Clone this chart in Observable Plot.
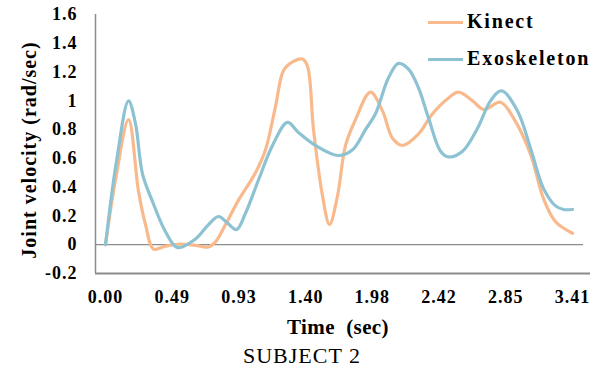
<!DOCTYPE html>
<html><head><meta charset="utf-8">
<script src="https://cdn.jsdelivr.net/npm/d3@7"></script>
<script src="https://cdn.jsdelivr.net/npm/@observablehq/plot@0.6"></script>
<style>
body{margin:0;background:#fff;}
#wrap{position:relative;width:590px;height:370px;font-family:"Liberation Serif","Times New Roman",serif;color:#000;overflow:hidden;}
#wrap svg{position:absolute;left:0;top:0;}
.lg-line{position:absolute;left:428px;width:35px;height:3px;}
.lg-text{position:absolute;left:467px;font-size:20px;line-height:20px;font-weight:bold;letter-spacing:1.8px;white-space:nowrap;}
.xlabel{position:absolute;top:317px;left:238px;width:200px;text-align:center;font-size:21px;line-height:21px;font-weight:bold;letter-spacing:0.4px;white-space:pre;}
.caption{position:absolute;top:345px;left:202px;width:200px;text-align:center;font-size:22px;line-height:22px;letter-spacing:1px;white-space:nowrap;}
</style></head>
<body><div id="wrap"></div>
<script>
// x positions are in category-tick units (0 = "0.00", 7 = "3.41")
const timeLabels = ["0.00","0.49","0.93","1.40","1.98","2.42","2.85","3.41"];
const timeTicks = [0,1,2,3,4,5,6,7];
const yTicks = [-0.2,0,0.2,0.4,0.6,0.8,1,1.2,1.4,1.6];
const yTickLabels = ["-0.2","0","0.2","0.4","0.6","0.8","1","1.2","1.4","1.6"];
const seriesNames = ["Kinect","Exoskeleton"];
const seriesColors = ["#f8ba8c","#8cc2d2"];

const kinectT = [0,0.150,0.345,0.495,0.600,0.720,0.900,1.124,1.349,1.544,1.649,1.799,1.994,2.248,2.398,2.548,2.668,2.803,2.953,3.028,3.118,3.253,3.358,3.478,3.598,3.748,3.972,4.152,4.302,4.452,4.692,4.902,5.142,5.292,5.502,5.667,5.921,6.116,6.371,6.566,6.746,7.0];
const kinectV = [0,0.45,0.87,0.37,0.14,-0.03,-0.01,0.005,-0.005,-0.015,0.02,0.14,0.31,0.50,0.66,0.96,1.21,1.27,1.29,1.24,0.80,0.34,0.14,0.34,0.69,0.87,1.06,0.93,0.74,0.69,0.77,0.91,1.02,1.06,1.00,0.94,0.99,0.88,0.63,0.32,0.16,0.08];

const exoT = [0,0.165,0.345,0.450,0.555,0.705,0.900,1.079,1.349,1.544,1.694,1.829,1.964,2.099,2.293,2.503,2.728,2.893,3.148,3.493,3.703,3.897,4.047,4.242,4.392,4.542,4.692,4.842,5.022,5.142,5.352,5.577,5.771,5.936,6.176,6.371,6.566,6.746,6.866,7.0];
const exoV = [0,0.58,1.0,0.84,0.49,0.30,0.09,-0.02,0.04,0.14,0.196,0.15,0.105,0.22,0.45,0.69,0.85,0.78,0.69,0.62,0.66,0.80,0.91,1.16,1.26,1.22,1.09,0.88,0.65,0.61,0.65,0.81,1.0,1.07,0.93,0.67,0.39,0.27,0.245,0.245];

const rows = [
  ...kinectT.map((t, i) => ({series: seriesNames[0], t, v: kinectV[i]})),
  ...exoT.map((t, i) => ({series: seriesNames[1], t, v: exoV[i]}))
];

const xMin = -0.15, xMax = 7.27, zeroEnd = 7.165;
const chart = Plot.plot({
  width: 590, height: 305,
  marginLeft: 95, marginRight: 0, marginTop: 14, marginBottom: 32,
  x: {domain: [xMin, xMax]},
  y: {domain: [-0.2, 1.6]},
  color: {domain: seriesNames, range: seriesColors},
  style: {fontFamily: "'Liberation Serif','Times New Roman',serif", fontSize: "18px", fontWeight: "bold", color: "#000", background: "transparent", letterSpacing: "1px", overflow: "visible"},
  marks: [
    Plot.ruleY([0], {x1: xMin, x2: zeroEnd, stroke: "#8c8c8c", strokeWidth: 1.3}),
    Plot.ruleY([-0.2], {x1: xMin, x2: xMax, stroke: "#8c8c8c", strokeWidth: 1.8}),
    Plot.ruleX([xMin], {y1: -0.2, y2: 1.6, stroke: "#8c8c8c", strokeWidth: 1.5}),
    Plot.axisX({ticks: timeTicks, tickFormat: i => timeLabels[timeTicks.indexOf(i)], tickSize: 0, tickPadding: 17, label: null, fill: "#000"}),
    Plot.axisY({ticks: yTicks, tickFormat: d => yTickLabels[yTicks.findIndex(v => Math.abs(v - d) < 1e-9)], tickSize: 0, tickPadding: 18, label: null, fill: "#000"}),
    Plot.line(rows, {x: "t", y: "v", z: "series", stroke: "series", strokeWidth: 3.2, curve: "catmull-rom"}),
    Plot.text(["Joint velocity (rad/sec)"], {frameAnchor: "left", textAnchor: "middle", text: d => d, rotate: -90, dx: -66, dy: 6, fontSize: 20, fontWeight: "bold", fill: "#000"})
  ]
});

const wrap = document.getElementById("wrap");
wrap.appendChild(chart);

// legend
const legendTops = [11, 48];
const lineTops = [21, 58];
seriesNames.forEach((name, i) => {
  const ln = document.createElement("div");
  ln.className = "lg-line";
  ln.style.top = lineTops[i] + "px";
  ln.style.background = seriesColors[i];
  wrap.appendChild(ln);
  const tx = document.createElement("div");
  tx.className = "lg-text";
  tx.style.top = legendTops[i] + "px";
  tx.textContent = name;
  wrap.appendChild(tx);
});

const xl = document.createElement("div");
xl.className = "xlabel";
xl.textContent = "Time  (sec)";
wrap.appendChild(xl);

const cap = document.createElement("div");
cap.className = "caption";
cap.textContent = "SUBJECT 2";
wrap.appendChild(cap);
</script>
</body></html>
